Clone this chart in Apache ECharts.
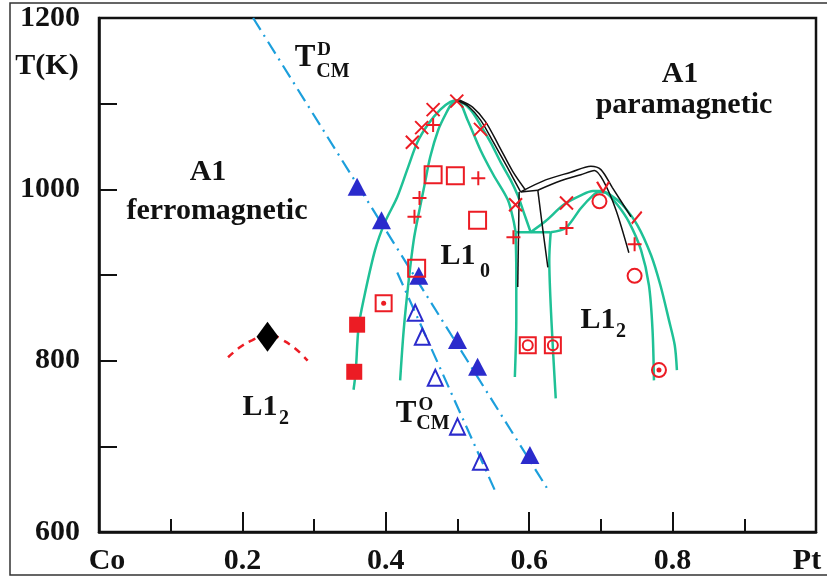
<!DOCTYPE html>
<html>
<head>
<meta charset="utf-8">
<script src="https://cdn.jsdelivr.net/npm/echarts@6/dist/echarts.min.js"></script>
<style>
  html, body { margin: 0; padding: 0; background: #fff; }
  #chart { width: 827px; height: 581px; }
</style>
</head>
<body>
<div id="chart"></div>
<script>
// ---- Axis tick labels ----
const xTickLabels = { '0': 'Co', '0.2': '0.2', '0.4': '0.4', '0.6': '0.6', '0.8': '0.8', '1': 'Pt' };
const yTickLabels = { '600': '600', '800': '800', '1000': '1000', '1200': '1200' };

// ---- Calculated phase boundaries (x = Pt fraction, y = T in K) ----
const l10Outer = [[0.355,766],[0.358,787],[0.362,839],[0.369,871],[0.385,929],[0.399,962],[0.416,991],[0.432,1028],[0.444,1055],[0.459,1076],[0.476,1093],[0.490,1102],[0.500,1104],[0.518,1093],[0.532,1075],[0.546,1055],[0.560,1032],[0.574,1011],[0.584,993],[0.592,974],[0.602,950]];
const l10Inner = [[0.420,777],[0.425,836],[0.432,894],[0.439,941],[0.446,972],[0.454,1005],[0.462,1038],[0.473,1069],[0.483,1087],[0.492,1100],[0.500,1104],[0.514,1081],[0.532,1046],[0.550,1017],[0.570,988],[0.578,964],[0.581,950]];
const twoPhaseLeft = [[0.581,950],[0.582,906],[0.582,848],[0.580,781]];
const eutectoid = [[0.581,950],[0.630,950]];
const l12Outer = [[0.602,950],[0.623,963],[0.648,982],[0.672,993],[0.689,998],[0.700,998],[0.714,993],[0.730,982],[0.751,958],[0.770,923],[0.783,888],[0.795,847],[0.803,818],[0.806,789]];
const l12Inner = [[0.630,950],[0.651,955],[0.672,978],[0.689,993],[0.697,997],[0.707,996],[0.723,982],[0.739,962],[0.756,929],[0.767,888],[0.772,836],[0.774,777]];
const twoPhaseRight = [[0.630,950],[0.628,918],[0.631,847],[0.637,756]];

// ---- Earlier calculated boundaries (thin black) ----
const calcA = [[0.499,1104],[0.515,1097],[0.532,1081],[0.550,1055],[0.570,1025],[0.588,997]];
const calcB = [[0.503,1104],[0.521,1096],[0.539,1079],[0.557,1052],[0.577,1021],[0.595,999]];
const calcJoin = [[0.588,997],[0.612,999]];
const calcLeft = [[0.586,997],[0.584,886]];
const calcRight = [[0.612,999],[0.619,953],[0.626,909]];
const calcUpper = [[0.588,997],[0.623,1011],[0.658,1020],[0.686,1027],[0.700,1023],[0.716,1002],[0.742,968]];
const calcLower = [[0.612,999],[0.644,1010],[0.672,1017],[0.691,1022],[0.704,1009],[0.721,976],[0.739,926]];

// ---- Curie temperatures ----
const tcmDisordered = [[0.215,1200],[0.628,647]];
const tcmOrdered = [[0.416,903],[0.553,647]];
const tcmDPoints = [[0.360,1003],[0.394,964],[0.446,899],[0.500,824],[0.528,793],[0.601,690]];
const tcmOPoints = [[0.441,856],[0.451,828],[0.469,780],[0.500,723],[0.532,682]];

// ---- Experimental points ----
const filledSquares = [[0.360,842],[0.356,787]];
const openSquares = [[0.466,1017],[0.497,1016],[0.528,964],[0.443,908]];
const dotSquares = [[0.397,867]];
const ringSquares = [[0.598,818],[0.633,818]];
const plusPoints = [[0.466,1075],[0.529,1013],[0.447,990],[0.440,968],[0.578,944],[0.652,955],[0.747,936]];
const crossPoints = [[0.437,1055],[0.450,1072],[0.466,1093],[0.499,1103],[0.532,1070],[0.581,982],[0.652,984]];
const vPoints = [[0.703,1003]];
const slashPoints = [[0.750,967]];
const circlePoints = [[0.698,986],[0.747,899]];
const dotCircles = [[0.781,789]];
const co3PtPoint = [[0.235,828]];
const co3PtArc = [[0.180,804],[0.197,816],[0.214,824],[0.235,832],[0.256,824],[0.274,814],[0.291,800]];

const SERIF = '"Liberation Serif", "Times New Roman", serif';
const GREEN = '#1fc196';
const RED = '#ec1c24';
const BLUE = '#2b2bcc';
const CYAN = '#1c9fdc';
const FS = 30;

function curve(data, color, width, smooth, z, type) {
  return {
    type: 'line', data: data, symbol: 'none', smooth: smooth, silent: true, z: z,
    lineStyle: { color: color, width: width, type: type || 'solid' }
  };
}
function marks(data, symbol, size, fill, stroke, bw, z) {
  return {
    type: 'scatter', data: data, symbol: symbol, symbolSize: size, silent: true, z: z || 6,
    itemStyle: { color: fill, borderColor: stroke, borderWidth: bw, opacity: 1 }
  };
}

const chart = echarts.init(document.getElementById('chart'), null, { renderer: 'canvas' });

const labelFont = { fontSize: FS, fontWeight: 'bold', fontFamily: SERIF, color: '#111' };

const option = {
  animation: false,
  backgroundColor: '#fff',
  grid: { left: 99, right: 11, top: 18, bottom: 49, show: true, borderColor: '#111', borderWidth: 2.5 },
  xAxis: {
    type: 'value', min: 0, max: 1, interval: 0.2,
    axisLine: { show: true, lineStyle: { color: '#111', width: 2.5 } },
    axisTick: { show: true, inside: true, length: 20, lineStyle: { color: '#111', width: 2 } },
    minorTick: { show: true, splitNumber: 2, length: 13, lineStyle: { color: '#111', width: 2 } },
    splitLine: { show: false },
    axisLabel: {
      margin: 14, showMinLabel: true, showMaxLabel: true,
      fontSize: FS, fontWeight: 'bold', fontFamily: SERIF, color: '#111',
      formatter: function (v) {
        const key = String(Math.round(v * 10) / 10);
        const t = xTickLabels[key] || '';
        if (key === '0') return '{l|' + t + '}';
        if (key === '1') return '{r|' + t + '}';
        return t;
      },
      rich: {
        l: Object.assign({ padding: [0, 0, 0, 16] }, labelFont),
        r: Object.assign({ padding: [0, 18, 0, 0] }, labelFont)
      }
    }
  },
  yAxis: {
    type: 'value', min: 600, max: 1200, interval: 200,
    axisLine: { show: true, lineStyle: { color: '#111', width: 2.5 } },
    axisTick: { show: true, inside: true, length: 18, lineStyle: { color: '#111', width: 2 } },
    minorTick: { show: true, splitNumber: 2, length: 18, lineStyle: { color: '#111', width: 2 } },
    splitLine: { show: false },
    axisLabel: {
      margin: 19, fontSize: FS, fontWeight: 'bold', fontFamily: SERIF, color: '#111',
      formatter: function (v) { return yTickLabels[String(Math.round(v))] || ''; }
    }
  },
  series: [
    // calculated boundaries
    curve(l10Outer, GREEN, 2.5, 0.3, 2),
    curve(l10Inner, GREEN, 2.5, 0.3, 2),
    curve(twoPhaseLeft, GREEN, 2.5, 0.3, 2),
    curve(eutectoid, GREEN, 2.5, false, 2),
    curve(l12Outer, GREEN, 2.5, 0.3, 2),
    curve(l12Inner, GREEN, 2.5, 0.3, 2),
    curve(twoPhaseRight, GREEN, 2.5, 0.3, 2),
    curve(calcA, '#111', 1.5, 0.3, 3),
    curve(calcB, '#111', 1.5, 0.3, 3),
    curve(calcJoin, '#111', 1.5, false, 3),
    curve(calcLeft, '#111', 1.5, false, 3),
    curve(calcRight, '#111', 1.5, 0.3, 3),
    curve(calcUpper, '#111', 1.5, 0.3, 3),
    curve(calcLower, '#111', 1.5, 0.3, 3),
    // Curie temperature lines
    curve(tcmDisordered, CYAN, 2.2, false, 2, [14, 6, 2, 6]),
    curve(tcmOrdered, CYAN, 2.2, false, 2, [14, 6, 2, 6]),
    curve(co3PtArc, RED, 2.5, 0.4, 2, [7, 6]),
    // markers
    marks(tcmDPoints, 'triangle', [19, 18], BLUE, BLUE, 0),
    marks(tcmOPoints, 'triangle', [15, 16], 'rgba(255,255,255,0)', BLUE, 2),
    marks(filledSquares, 'rect', 16, RED, RED, 0),
    marks(openSquares, 'rect', 17, 'rgba(255,255,255,0)', RED, 2),
    marks(dotSquares, 'rect', 16, 'rgba(255,255,255,0)', RED, 2),
    marks(dotSquares, 'circle', 5, RED, RED, 0, 7),
    marks(ringSquares, 'rect', 16, 'rgba(255,255,255,0)', RED, 2),
    marks(ringSquares, 'circle', 10, 'rgba(255,255,255,0)', RED, 2, 7),
    marks(plusPoints, 'path://M5,0L5,10M0,5L10,5', 14, 'rgba(255,255,255,0)', RED, 2),
    marks(crossPoints, 'path://M0,0L10,10M10,0L0,10', 13, 'rgba(255,255,255,0)', RED, 2),
    marks(vPoints, 'path://M0,0L5,8L10,0', [12, 10], 'rgba(255,255,255,0)', RED, 2),
    marks(slashPoints, 'path://M0,10L10,0', [10, 12], 'rgba(255,255,255,0)', RED, 2),
    marks(circlePoints, 'circle', 14, 'rgba(255,255,255,0)', RED, 2),
    marks(dotCircles, 'circle', 14, 'rgba(255,255,255,0)', RED, 2),
    marks(dotCircles, 'circle', 5, RED, RED, 0, 7),
    marks(co3PtPoint, 'diamond', [22, 30], '#000', '#000', 0)
  ]
};
chart.setOption(option);

// ---- Region names and axis title ----
function txt(text, x, y, size, align) {
  return {
    type: 'text', x: x, y: y, silent: true, z: 20,
    style: {
      text: text, fill: '#111', fontFamily: SERIF, fontWeight: 'bold', fontSize: size,
      align: align || 'center', verticalAlign: 'middle'
    }
  };
}
chart.setOption({
  graphic: [
    { type: 'rect', silent: true, z: 0, shape: { x: 10, y: 3, width: 830, height: 572 },
      style: { fill: 'none', stroke: '#333', lineWidth: 1.5 } },
    txt('T(K)', 47, 66, FS),
    txt('A1', 208, 172, FS),
    txt('ferromagnetic', 217, 211, FS),
    txt('A1', 680, 74, FS),
    txt('paramagnetic', 684, 105, FS),
    txt('L1', 458, 256, FS),
    txt('0', 485, 272, 20),
    txt('L1', 598, 320, FS),
    txt('2', 621, 332, 20),
    txt('L1', 260, 407, FS),
    txt('2', 284, 419, 20),
    txt('T', 305, 58, 31),
    txt('D', 324, 50, 19),
    txt('CM', 333, 72, 20),
    txt('T', 406, 414, 31),
    txt('O', 426, 405, 19),
    txt('CM', 433, 424, 20)
  ]
});
</script>
</body>
</html>
